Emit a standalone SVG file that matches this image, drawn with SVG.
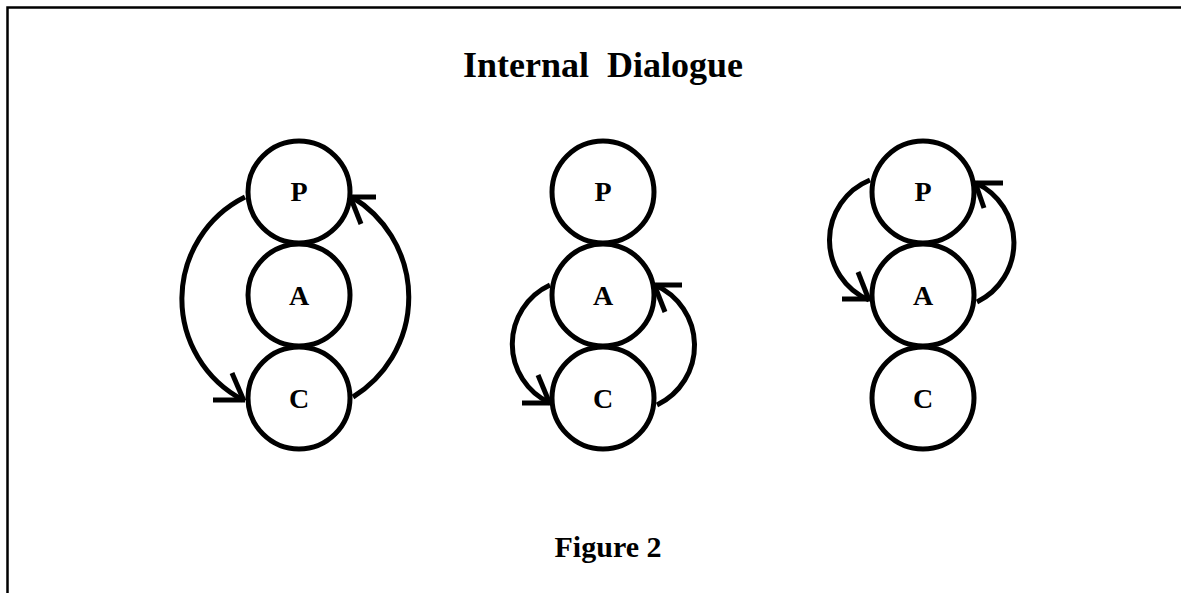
<svg xmlns="http://www.w3.org/2000/svg" width="1181" height="593" viewBox="0 0 1181 593">
<style>
.node circle{fill:#fff;stroke:#000;stroke-width:5}
.lbl{font-family:"Liberation Serif","Times New Roman",serif;font-weight:bold;font-size:28px;text-anchor:middle;fill:#000}
.title{font-family:"Liberation Serif","Times New Roman",serif;font-weight:bold;text-anchor:middle;fill:#000}
#connectors path{fill:none;stroke:#000;stroke-width:5}
#connectors line{stroke:#000;stroke-width:5}
</style>
<rect width="1181" height="593" fill="#fff"/>
<path d="M7.5,593 V7.5 H1181" fill="none" stroke="#000" stroke-width="2.5"/>
<text class="title" x="603" y="77" font-size="36" xml:space="preserve">Internal  Dialogue</text>
<text class="title" x="608" y="557" font-size="30">Figure 2</text>

<g id="connectors">
  <!-- diagram 1 -->
  <path d="M245,197 A114,114 0 0 0 243,400"/>
  <line x1="213" y1="400" x2="245" y2="400"/>
  <line x1="232" y1="373" x2="244" y2="401"/>
  <path d="M353,397 A117,117 0 0 0 352,197"/>
  <line x1="350" y1="197" x2="376" y2="197"/>
  <line x1="350" y1="196" x2="361" y2="224"/>
  <!-- diagram 2 -->
  <path d="M550,285 A65,65 0 0 0 550,403"/>
  <line x1="522" y1="403" x2="551" y2="403"/>
  <line x1="538" y1="375" x2="550" y2="404"/>
  <path d="M657,405 A66,66 0 0 0 655,285"/>
  <line x1="654" y1="285" x2="682" y2="285"/>
  <line x1="654" y1="284" x2="665" y2="312"/>
  <!-- diagram 3 -->
  <path d="M870,180 A65,65 0 0 0 869,300"/>
  <line x1="842" y1="299" x2="870" y2="299"/>
  <line x1="858" y1="272" x2="869" y2="300"/>
  <path d="M977,302 A66,66 0 0 0 976,183"/>
  <line x1="975" y1="183" x2="1003" y2="183"/>
  <line x1="975" y1="182" x2="984" y2="208"/>
</g>

<g id="d1-P" class="node"><circle cx="299" cy="192" r="51"/><text class="lbl" x="299" y="201">P</text></g>
<g id="d1-A" class="node"><circle cx="299" cy="295" r="51"/><text class="lbl" x="299" y="305">A</text></g>
<g id="d1-C" class="node"><circle cx="299" cy="398" r="51"/><text class="lbl" x="299" y="408">C</text></g>

<g id="d2-P" class="node"><circle cx="603" cy="192" r="51"/><text class="lbl" x="603" y="201">P</text></g>
<g id="d2-A" class="node"><circle cx="603" cy="295" r="51"/><text class="lbl" x="603" y="305">A</text></g>
<g id="d2-C" class="node"><circle cx="603" cy="398" r="51"/><text class="lbl" x="603" y="408">C</text></g>

<g id="d3-P" class="node"><circle cx="923" cy="192" r="51"/><text class="lbl" x="923" y="201">P</text></g>
<g id="d3-A" class="node"><circle cx="923" cy="295" r="51"/><text class="lbl" x="923" y="305">A</text></g>
<g id="d3-C" class="node"><circle cx="923" cy="398" r="51"/><text class="lbl" x="923" y="408">C</text></g>
</svg>
